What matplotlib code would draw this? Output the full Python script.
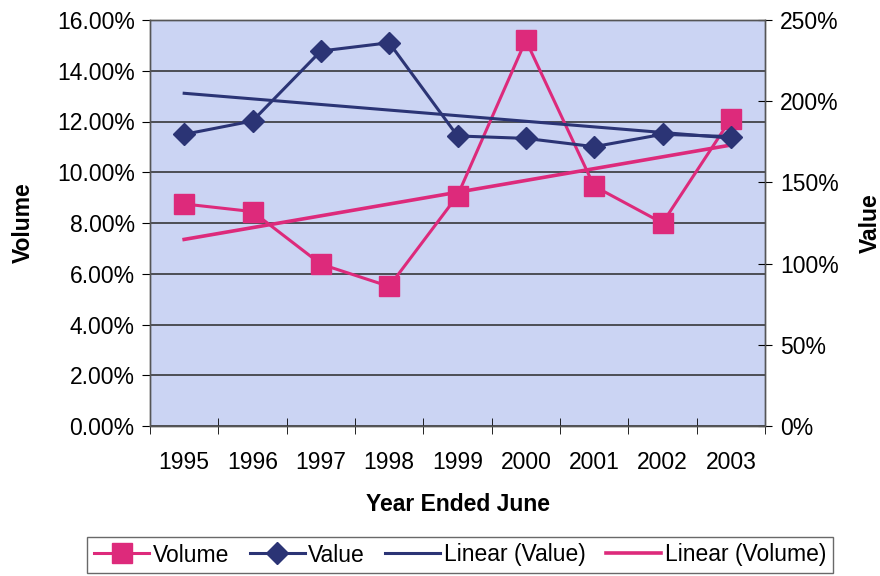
import numpy as np
import matplotlib.pyplot as plt
from matplotlib.ticker import FuncFormatter, MultipleLocator

plt.rcParams['font.family'] = ['Liberation Sans', 'DejaVu Sans']

# year ended June, volume growth (%) and value growth (%)
years = ["1995", "1996", "1997", "1998", "1999", "2000", "2001", "2002", "2003"]
volume = [8.75, 8.45, 6.38, 5.5, 9.08, 15.2, 9.45, 8.0, 12.1]
value = [179.6, 187.8, 230.9, 236.0, 178.6, 177.1, 172.0, 179.6, 178.2]

PINK = "#dd2a7b"
NAVY = "#2b3475"
BG = "#cbd4f3"

x = np.arange(len(years))
vol_fit = np.polyval(np.polyfit(x, volume, 1), x)
val_fit = np.polyval(np.polyfit(x, value, 1), x)

fig = plt.figure(figsize=(8.8, 5.76), dpi=100)
ax = fig.add_axes([150 / 880, 1 - 426 / 576, 615 / 880, 406 / 576])
ax2 = ax.twinx()

ax.set_facecolor(BG)
ax2.patch.set_visible(False)

fs = 16.5

# left axis: volume
l_vol, = ax.plot(x, volume, color=PINK, lw=2.2, marker="s", ms=14, label="Volume", zorder=3)
l_volfit, = ax.plot(x, vol_fit, color=PINK, lw=2.6, label="Linear (Volume)", zorder=2)
ax.set_ylim(0, 16)
ax.yaxis.set_major_locator(MultipleLocator(2))
ax.yaxis.set_major_formatter(FuncFormatter(lambda v, p: "%.2f%%" % v))
ax.grid(axis="y", color="#2a2a2a", lw=1.1)
ax.set_axisbelow(True)
ax.tick_params(axis="y", direction="out", length=6, labelsize=fs, pad=5)
ax.set_ylabel("Volume", fontsize=fs, fontweight="bold")
ax.yaxis.set_label_coords(-0.188, 0.5)

# right axis: value
l_val, = ax2.plot(x, value, color=NAVY, lw=2.2, marker="D", ms=11.5, label="Value", zorder=3)
l_valfit, = ax2.plot(x, val_fit, color=NAVY, lw=2.2, label="Linear (Value)", zorder=2)
ax2.set_ylim(0, 250)
ax2.yaxis.set_major_locator(MultipleLocator(50))
ax2.yaxis.set_major_formatter(FuncFormatter(lambda v, p: "%d%%" % v))
ax2.tick_params(axis="y", direction="inout", length=10, labelsize=fs, pad=6)
ax2.set_ylabel("Value", fontsize=fs, fontweight="bold")
ax2.yaxis.set_label_coords(1.152, 0.5)

# category axis with ticks between years
ax.set_xlim(-0.5, len(years) - 0.5)
ax.set_xticks(x)
ax.set_xticklabels(years)
ax.set_xticks(np.arange(-0.5, len(years)), minor=True)
ax.tick_params(axis="x", which="major", length=0, labelsize=fs, pad=18)
ax.tick_params(axis="x", which="minor", direction="inout", length=12)
ax.set_xlabel("Year Ended June", fontsize=fs, fontweight="bold", labelpad=14)

for a in (ax, ax2):
    for s in a.spines.values():
        s.set_color("#555555")
        s.set_linewidth(1.0)

fig.legend(handles=[l_vol, l_val, l_valfit, l_volfit], loc="center",
           bbox_to_anchor=(460 / 880, 1 - 555 / 576), ncol=4, fontsize=fs,
           frameon=True, fancybox=False, edgecolor="#444444", borderpad=0.3,
           handlelength=2.4, handletextpad=0.15, columnspacing=0.9)

fig.savefig("out.png", dpi=100, facecolor="white")
